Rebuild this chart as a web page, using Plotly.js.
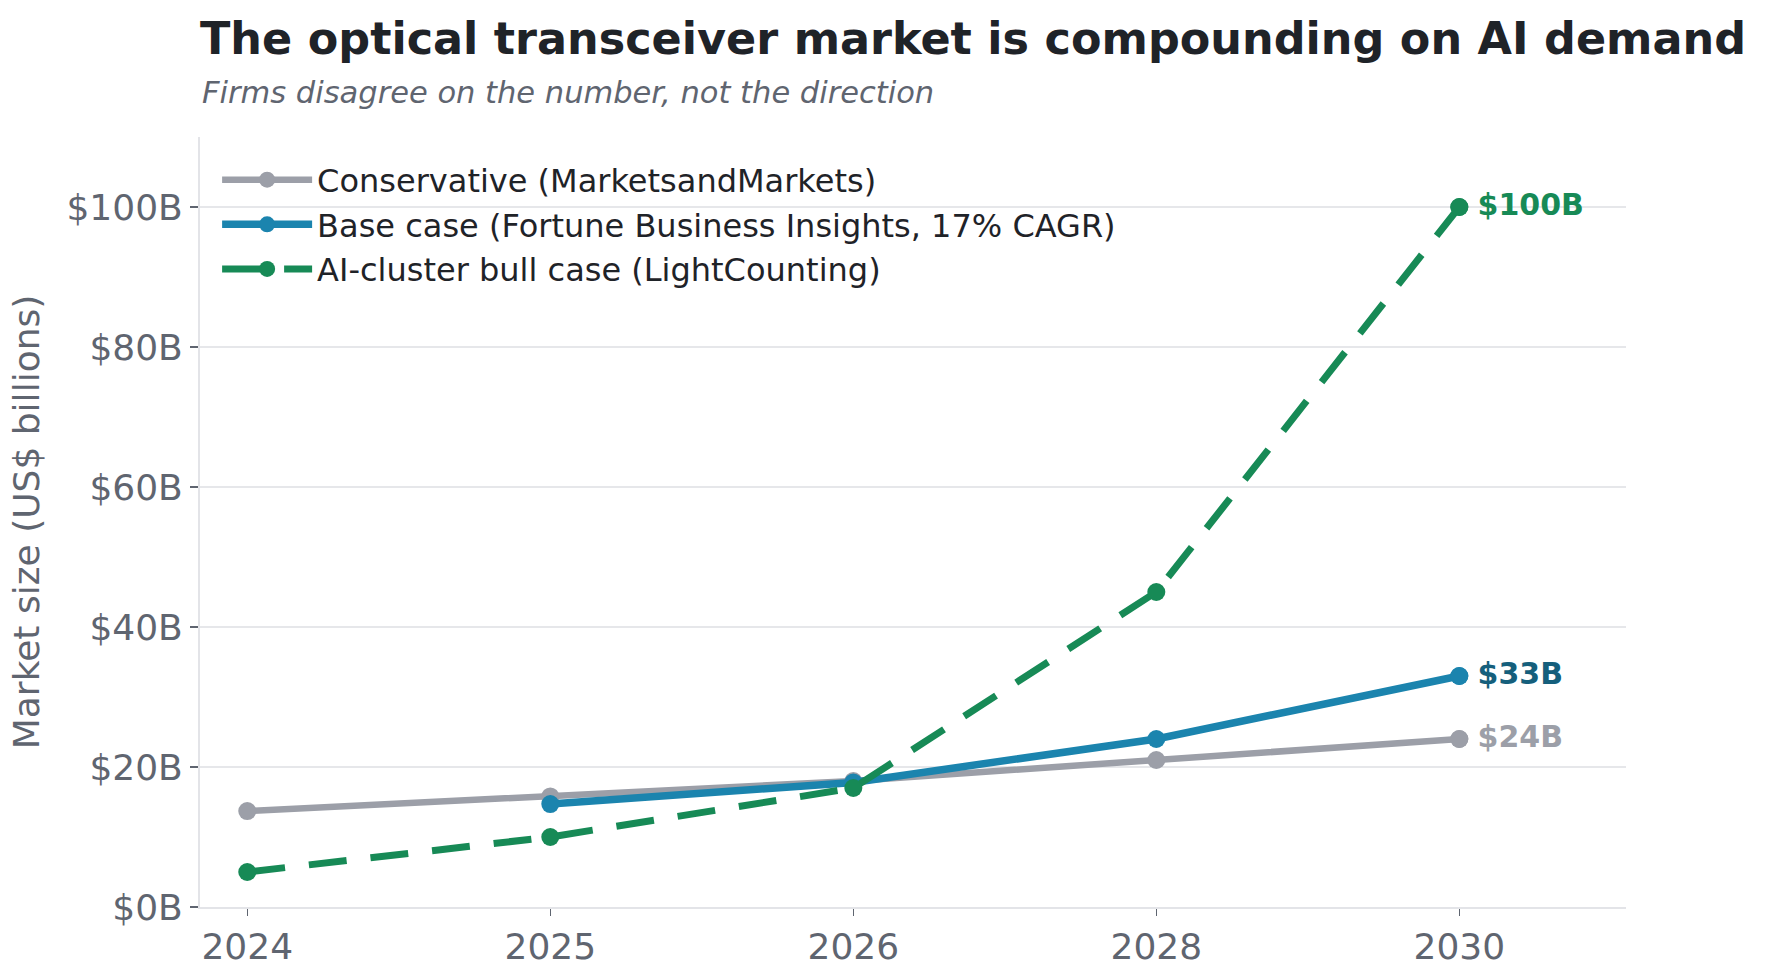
<!DOCTYPE html>
<html>
<head>
<meta charset="utf-8">
<script src="https://cdn.plot.ly/plotly-3.0.1.min.js"></script>
<style>
  html, body { margin: 0; padding: 0; background: #ffffff; }
  #chart { width: 1767px; height: 980px; }
</style>
</head>
<body>
<div id="chart"></div>
<script>
// Forecast years (plotted as evenly spaced categories)
const years = ["2024", "2025", "2026", "2028", "2030"];

// Market size forecasts, US$ billions
const conservative = [13.7, 15.8, 18.0, 21.0, 24.0];
const baseYears = ["2025", "2026", "2028", "2030"];
const baseCase = [14.7, 17.8, 24.0, 33.0];
const bullCase = [5.0, 10.0, 17.0, 45.0, 100.0];

const seriesNames = [
  "Conservative (MarketsandMarkets)",
  "Base case (Fortune Business Insights, 17% CAGR)",
  "AI-cluster bull case (LightCounting)"
];

const GRAY = "#9c9fa8";
const BLUE = "#1b84ae";
const GREEN = "#178a56";
const FONT = "DejaVu Sans, Verdana, sans-serif";
const MUTED = "#5f6570";

const traces = [
  {
    x: years, y: conservative, name: seriesNames[0],
    mode: "lines+markers", type: "scatter",
    line: { color: GRAY, width: 6.5 },
    marker: { color: GRAY, size: 18 }
  },
  {
    x: baseYears, y: baseCase, name: seriesNames[1],
    mode: "lines+markers", type: "scatter",
    line: { color: BLUE, width: 7.5 },
    marker: { color: BLUE, size: 18 }
  },
  {
    x: years, y: bullCase, name: seriesNames[2],
    mode: "lines+markers", type: "scatter",
    line: { color: GREEN, width: 7, dash: "38px,24px" },
    marker: { color: GREEN, size: 18 }
  }
];

// End-of-line value labels, placed beside the final point of each series
const last = a => a[a.length - 1];
const endLabels = [
  { x: last(years), y: last(bullCase), dot: GREEN, color: GREEN },
  { x: last(baseYears), y: last(baseCase), dot: BLUE, color: "#155f7c" },
  { x: last(years), y: last(conservative), dot: GRAY, color: GRAY }
];
endLabels.forEach(d => traces.push({
  x: [d.x], y: [d.y], type: "scatter", mode: "markers+text",
  text: ["<b>\u2009$" + d.y.toFixed(0) + "B</b>"],
  textposition: "middle right",
  textfont: { family: FONT, size: 30, color: d.color },
  marker: { color: d.dot, size: 18 },
  showlegend: false, hoverinfo: "skip", cliponaxis: false
}));

const layout = {
  width: 1767, height: 980,
  paper_bgcolor: "#ffffff", plot_bgcolor: "#ffffff",
  margin: { l: 200, r: 141, t: 137, b: 73 },
  font: { family: FONT, color: MUTED },
  title: {
    text: "<b>The optical transceiver market is compounding on AI demand</b>",
    x: 0, xref: "paper", xanchor: "left",
    y: 0.961, yref: "container", yanchor: "middle",
    font: { family: FONT, size: 44.5, color: "#1f2328" }
  },
  annotations: [{
    text: "<i>Firms disagree on the number, not the direction</i>",
    xref: "paper", yref: "paper", x: 0, y: 1.0584,
    xanchor: "left", yanchor: "middle", showarrow: false,
    font: { family: FONT, size: 30.5, color: MUTED }
  }],
  xaxis: {
    type: "category",
    range: [-0.156, 4.55],
    showgrid: false, zeroline: false,
    showline: true, linecolor: "#e3e4e8", linewidth: 2,
    ticks: "outside", ticklen: 7, tickcolor: MUTED, tickwidth: 1.5,
    tickfont: { family: FONT, size: 36, color: MUTED }
  },
  yaxis: {
    range: [0, 110],
    tickvals: [0, 20, 40, 60, 80, 100],
    ticktext: ["$0B", "$20B", "$40B", "$60B", "$80B", "$100B"],
    showgrid: true, gridcolor: "#e6e7ea", gridwidth: 2,
    zeroline: false,
    showline: true, linecolor: "#e3e4e8", linewidth: 2,
    ticks: "outside", ticklen: 8, tickcolor: MUTED, tickwidth: 1.5,
    tickfont: { family: FONT, size: 36, color: MUTED },
    title: { text: "Market size (US$ billions)", standoff: 16,
             font: { family: FONT, size: 36, color: MUTED } }
  },
  legend: {
    x: 0.012, y: 0.98, xanchor: "left", yanchor: "top",
    bgcolor: "rgba(0,0,0,0)", borderwidth: 0,
    font: { family: FONT, size: 32, color: "#1f2328" },
    itemwidth: 90, tracegroupgap: 4
  },
  showlegend: true
};

Plotly.newPlot("chart", traces, layout, { displayModeBar: false, staticPlot: true });
</script>
</body>
</html>
